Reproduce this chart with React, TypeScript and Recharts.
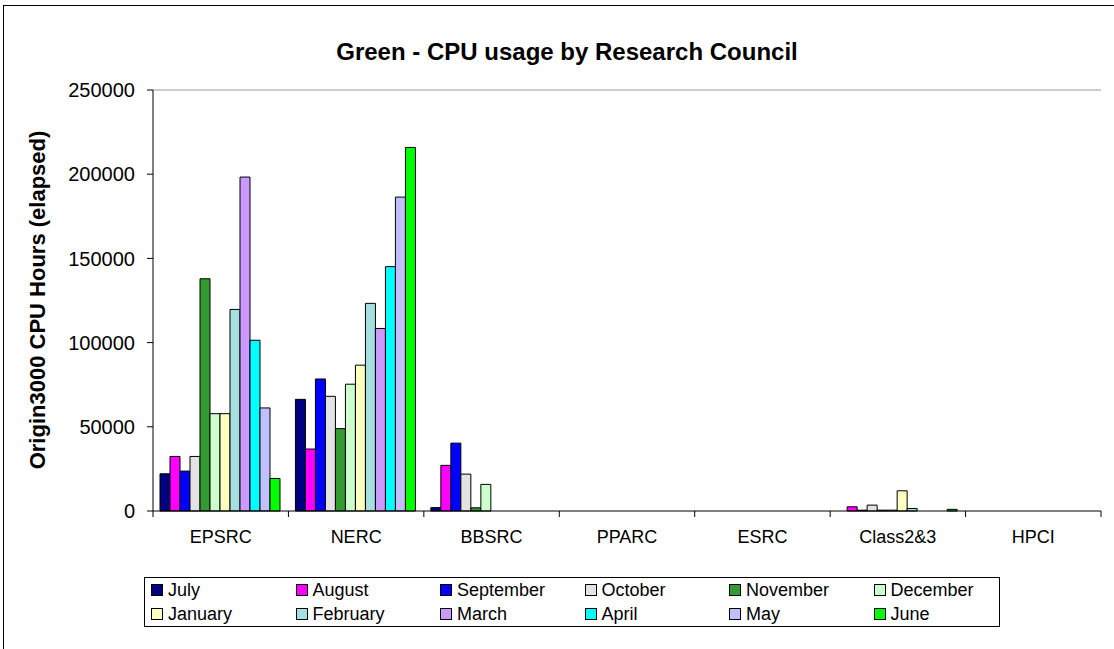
import React from 'react';
import { BarChart, Bar, XAxis, YAxis, ReferenceLine } from 'recharts';

const councils = ['EPSRC', 'NERC', 'BBSRC', 'PPARC', 'ESRC', 'Class2&3', 'HPCI'];
const months = ['July', 'August', 'September', 'October', 'November', 'December', 'January', 'February', 'March', 'April', 'May', 'June'];
const monthColors = ['#000080', '#FF00FF', '#0000FF', '#E3E3E3', '#339933', '#CCFFCC', '#FFFFC0', '#A6DFDF', '#CC99FF', '#00FFFF', '#C0C0FF', '#00FF00'];

// one list per council, July..June
const epsrc = [22100, 32400, 23700, 32400, 137900, 57800, 57800, 119700, 198300, 101400, 61200, 19300];
const nerc = [66300, 36800, 78400, 68100, 48900, 75300, 86600, 123300, 108400, 145100, 186400, 215900];
const bbsrc = [2000, 27100, 40300, 21900, 1900, 15800, 0, 0, 0, 0, 0, 0];
const pparc = [0, 0, 0, 0, 0, 0, 0, 0, 0, 0, 0, 0];
const esrc = [0, 0, 0, 0, 0, 0, 0, 0, 0, 0, 0, 0];
const class23 = [0, 2500, 500, 3500, 500, 500, 12000, 1500, 0, 0, 0, 1000];
const hpci = [0, 0, 0, 0, 0, 0, 0, 0, 0, 0, 0, 0];

const yTicks = [0, 50000, 100000, 150000, 200000, 250000];

const rows = [epsrc, nerc, bbsrc, pparc, esrc, class23, hpci];
const data = councils.map((name, i) => {
  const row: Record<string, string | number> = { name };
  months.forEach((m, j) => {
    row[m] = rows[i][j];
  });
  return row;
});

const FONT = '"Liberation Sans", Arial, sans-serif';

function CouncilTick(props: any) {
  const { x, y, payload, index } = props;
  const half = payload && payload.offset ? payload.offset : 67.7;
  return (
    <g>
      <line x1={x - half} y1={y - 8} x2={x - half} y2={y - 2} stroke="#000" />
      {index === councils.length - 1 && (
        <line x1={x + half} y1={y - 8} x2={x + half} y2={y - 2} stroke="#000" />
      )}
      <text x={x} y={y + 24} textAnchor="middle" fontSize={18} fill="#000" fontFamily={FONT}>
        {payload.value}
      </text>
    </g>
  );
}

export default function App() {
  return (
    <div style={{ position: 'absolute', left: 0, top: 0, width: 1114, height: 649, overflow: 'hidden', background: '#fff', fontFamily: FONT }}>
      <div style={{ position: 'absolute', left: 3, top: 5, width: 1200, height: 800, borderLeft: '1px solid #000', borderTop: '1px solid #000' }} />
      <div style={{ position: 'absolute', left: 0, width: 1134, top: 38, textAlign: 'center', fontSize: 24, fontWeight: 'bold', color: '#000' }}>
        Green - CPU usage by Research Council
      </div>
      <div
        style={{
          position: 'absolute',
          left: 38,
          top: 300,
          transform: 'translate(-50%, -50%) rotate(-90deg)',
          whiteSpace: 'nowrap',
          fontSize: 22,
          fontWeight: 'bold',
          color: '#000',
        }}
      >
        Origin3000 CPU Hours (elapsed)
      </div>
      <BarChart
        width={1114}
        height={649}
        data={data}
        margin={{ top: 90, right: 13, left: 53, bottom: 98 }}
        barCategoryGap={7}
        barGap={0}
        style={{ position: 'absolute', left: 0, top: 0 }}
      >
        <XAxis
          dataKey="name"
          height={40}
          interval={0}
          axisLine={{ stroke: '#000' }}
          tickLine={false}
          tick={<CouncilTick />}
        />
        <YAxis
          width={100}
          domain={[0, 250000]}
          ticks={yTicks}
          interval={0}
          axisLine={{ stroke: '#000' }}
          tickLine={{ stroke: '#000' }}
          tickSize={6}
          tickMargin={12}
          tick={{ fontSize: 20, fill: '#000', fontFamily: FONT }}
        />
        <YAxis
          yAxisId="frame"
          orientation="right"
          width={0}
          domain={[0, 250000]}
          tick={false}
          tickLine={false}
          axisLine={{ stroke: '#999' }}
        />
        <ReferenceLine y={250000} stroke="#999" />
        {months.map((m, j) => (
          <Bar key={m} dataKey={m} fill={monthColors[j]} stroke="#000" strokeWidth={1} isAnimationActive={false} />
        ))}
      </BarChart>
      <div
        style={{
          position: 'absolute',
          left: 144,
          top: 577,
          width: 848,
          height: 48,
          border: '1px solid #000',
          display: 'grid',
          gridTemplateColumns: 'repeat(6, 144.5px)',
          gridAutoRows: '24px',
          paddingLeft: 6,
          boxSizing: 'content-box',
          fontSize: 18,
        }}
      >
        {months.map((m, j) => (
          <div key={m} style={{ display: 'flex', alignItems: 'center', whiteSpace: 'nowrap' }}>
            <span style={{ display: 'inline-block', width: 10, height: 10, background: monthColors[j], border: '1px solid #000', marginRight: 5 }} />
            {m}
          </div>
        ))}
      </div>
    </div>
  );
}
